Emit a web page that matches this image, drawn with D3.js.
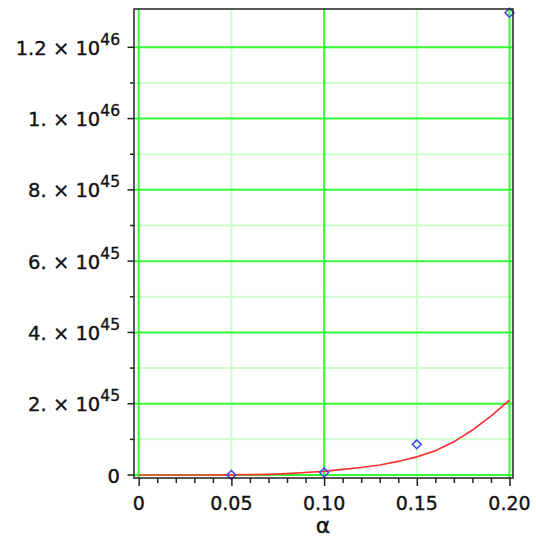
<!DOCTYPE html>
<html>
<head>
<meta charset="utf-8">
<script src="https://cdn.jsdelivr.net/npm/d3@7"></script>
<style>
  body { margin: 0; background: #fff; }
  svg text { font-family: "DejaVu Sans", Verdana, sans-serif; fill: #111; stroke: #111; stroke-width: 0.35; }
</style>
</head>
<body>
<div id="chart"></div>
<script>
// fitted curve (red), values in units of 1e45
const alphaFit = [0, 0.01, 0.02, 0.03, 0.04, 0.05, 0.06, 0.07, 0.08, 0.09, 0.10,
                  0.11, 0.12, 0.13, 0.14, 0.15, 0.16, 0.17, 0.18, 0.19, 0.20];
const fitVals = [0, 0, 0, 0, 0, 0.003, 0.008, 0.02, 0.04, 0.07, 0.10,
                 0.16, 0.21, 0.28, 0.38, 0.51, 0.68, 0.93, 1.26, 1.65, 2.10];

// measured points (blue diamonds), units of 1e45
const alphaPts = [0.05, 0.10, 0.15, 0.20];
const ptVals = [0.001, 0.07, 0.86, 12.97];

const xMajor = [0, 0.05, 0.10, 0.15, 0.20];
const xLabels = ["0", "0.05", "0.10", "0.15", "0.20"];
const xGridMajor = [0, 0.10, 0.20];
const xGridMinor = [0.05, 0.15];
const yMajor = [0, 2e45, 4e45, 6e45, 8e45, 1e46, 1.2e46];
const yMinor = [1e45, 3e45, 5e45, 7e45, 9e45, 1.1e46];

const W = 536, H = 538;
const frame = {left: 134, right: 513, top: 9, bottom: 478};

var svg = d3.select("#chart").append("svg")
  .attr("width", W)
  .attr("height", H);

var x = d3.scaleLinear().domain([0, 0.2]).range([138.7, 509.5]);
var y = d3.scaleLinear().domain([0, 1.2e46]).range([475, 47.3]);

// GRID
var grid = svg.append("g");
grid.selectAll("line.hmin").data(yMinor).enter().append("line")
  .attr("x1", frame.left).attr("x2", frame.right)
  .attr("y1", d => y(d)).attr("y2", d => y(d))
  .attr("stroke", "#ccffcc").attr("stroke-width", 2);
grid.selectAll("line.vmin").data(xGridMinor).enter().append("line")
  .attr("x1", d => x(d)).attr("x2", d => x(d))
  .attr("y1", frame.top).attr("y2", frame.bottom)
  .attr("stroke", "#ccffcc").attr("stroke-width", 2);
grid.selectAll("line.hmaj").data(yMajor).enter().append("line")
  .attr("x1", frame.left).attr("x2", frame.right)
  .attr("y1", d => y(d)).attr("y2", d => y(d))
  .attr("stroke", "#33ff33").attr("stroke-width", 2);
grid.selectAll("line.vmaj").data(xGridMajor).enter().append("line")
  .attr("x1", d => x(d)).attr("x2", d => x(d))
  .attr("y1", frame.top).attr("y2", frame.bottom)
  .attr("stroke", "#33ff33").attr("stroke-width", 2);

// FIT CURVE
var line = d3.line()
  .x((d, i) => x(alphaFit[i]))
  .y(d => y(d * 1e45));

svg.append("path")
  .datum(fitVals)
  .attr("d", line)
  .attr("fill", "none")
  .attr("stroke", "#ff3030")
  .attr("stroke-width", 1.7);

// POINTS
var sym = d3.symbol().type(d3.symbolDiamond2).size(50);
svg.append("g").selectAll("path")
  .data(ptVals)
  .enter().append("path")
  .attr("d", sym)
  .attr("transform", (d, i) => "translate(" + x(alphaPts[i]) + "," + y(d * 1e45) + ")")
  .attr("fill", "none")
  .attr("stroke", "#4040ff")
  .attr("stroke-width", 1.5);

// FRAME
svg.append("path")
  .attr("d", "M" + frame.left + "," + frame.bottom + "V" + frame.top + "H" + frame.right + "V" + frame.bottom + "Z")
  .attr("fill", "none")
  .attr("stroke", "#222")
  .attr("stroke-width", 1.5);

// X AXIS
var xAxis = d3.axisBottom(x)
  .tickValues(d3.range(0, 21).map(i => i / 100))
  .tickSize(5)
  .tickFormat("");
var xg = svg.append("g").attr("transform", "translate(0," + frame.bottom + ")").call(xAxis);
xg.select(".domain").remove();
xg.selectAll(".tick line").attr("stroke", "#222").attr("stroke-width", 1.5);
xg.selectAll(".tick line").filter(d => xMajor.some(m => Math.abs(m - d) < 1e-9)).attr("y2", 8);

svg.append("g").selectAll("text")
  .data(xMajor)
  .enter().append("text")
  .attr("x", d => x(d))
  .attr("y", 509.5)
  .attr("text-anchor", "middle")
  .attr("font-size", 19)
  .text((d, i) => xLabels[i]);

svg.append("text")
  .attr("x", x(0.1) - 1)
  .attr("y", 533)
  .attr("text-anchor", "middle")
  .attr("font-size", 22)
  .text("α");

// Y AXIS
var yg = svg.append("g");
yg.selectAll("line.ymaj").data(yMajor).enter().append("line")
  .attr("x1", 127.5).attr("x2", frame.left)
  .attr("y1", d => y(d)).attr("y2", d => y(d))
  .attr("stroke", "#222").attr("stroke-width", 1.5);
yg.selectAll("line.ymin").data(yMinor).enter().append("line")
  .attr("x1", 130).attr("x2", frame.left)
  .attr("y1", d => y(d)).attr("y2", d => y(d))
  .attr("stroke", "#222").attr("stroke-width", 1.5);

var ylab = yg.selectAll("text").data(yMajor).enter().append("text")
  .attr("x", 120)
  .attr("y", d => y(d) + 7.5)
  .attr("text-anchor", "end")
  .attr("font-size", 19.5);

ylab.each(function(v) {
  var t = d3.select(this);
  if (v === 0) { t.text("0"); return; }
  var e = Math.floor(Math.log10(v) + 1e-9);
  var m = +(v / Math.pow(10, e)).toFixed(3);
  var ms = Number.isInteger(m) ? m + "." : String(m);
  t.append("tspan").text(ms + " × 10");
  t.append("tspan").attr("dy", -10).attr("font-size", 15.5).text(e);
});
</script>
</body>
</html>
